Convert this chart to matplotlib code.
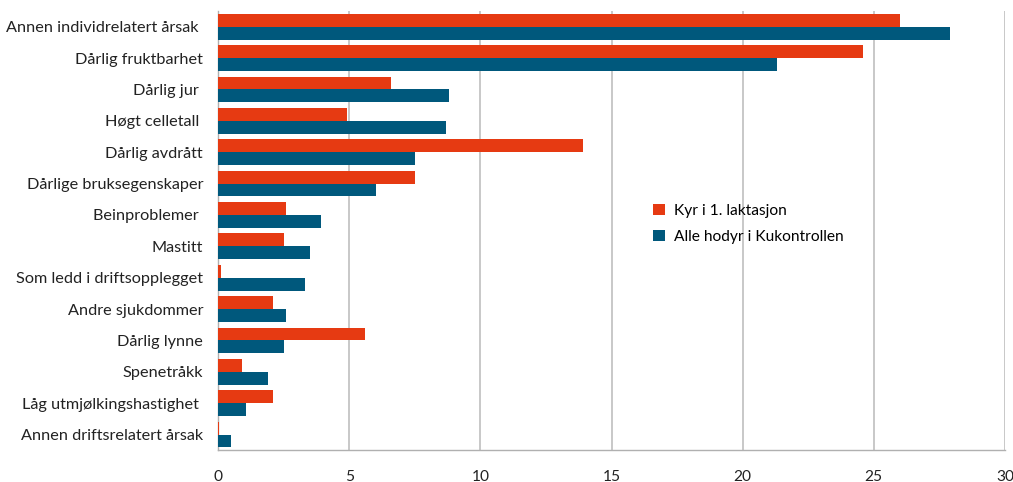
import numpy as np
import matplotlib.pyplot as plt

plt.rcParams['font.family'] = ['Lato', 'DejaVu Sans']

# categories, top to bottom
categories = ['Annen individrelatert årsak ', 'Dårlig fruktbarhet', 'Dårlig jur ',
              'Høgt celletall ', 'Dårlig avdrått', 'Dårlige bruksegenskaper',
              'Beinproblemer ', 'Mastitt', 'Som ledd i driftsopplegget',
              'Andre sjukdommer', 'Dårlig lynne', 'Spenetråkk',
              'Låg utmjølkingshastighet ', 'Annen driftsrelatert årsak']
first_lact = [26.0, 24.6, 6.6, 4.9, 13.9, 7.5, 2.6, 2.5, 0.1, 2.1, 5.6, 0.9, 2.1, 0.03]
all_cows = [27.9, 21.3, 8.8, 8.7, 7.5, 6.0, 3.9, 3.5, 3.3, 2.6, 2.5, 1.9, 1.05, 0.5]
xticks = [0, 5, 10, 15, 20, 25, 30]

orange = '#E63A12'
blue = '#00587C'
h = 0.41

fig, ax = plt.subplots(figsize=(10.13, 4.82), dpi=100)
fig.subplots_adjust(left=0.2155, right=0.992, top=0.977, bottom=0.066)

y = np.arange(len(categories))
ax.barh(y - h / 2, first_lact, height=h, color=orange, label='Kyr i 1. laktasjon', zorder=3)
ax.barh(y + h / 2, all_cows, height=h, color=blue, label='Alle hodyr i Kukontrollen', zorder=3)

ax.set_ylim(len(categories) - 0.5, -0.5)
ax.set_yticks(y)
ax.set_yticklabels(categories, fontsize=11.7, color='#222222')
ax.set_xlim(0, 30)
ax.set_xticks(xticks)
ax.set_xticklabels([str(t) for t in xticks], fontsize=11.2, color='#222222')
ax.tick_params(axis='both', length=0)
ax.tick_params(axis='y', pad=11)
ax.tick_params(axis='x', pad=14)

ax.grid(axis='x', color='#c4c4c4', linewidth=1.3, zorder=0)
for s in ['top', 'right']:
    ax.spines[s].set_visible(False)
for s in ['left', 'bottom']:
    ax.spines[s].set_color('#b0b0b0')
    ax.spines[s].set_linewidth(1.0)

ax.legend(loc='center left', bbox_to_anchor=(0.535, 0.515), frameon=False,
          fontsize=11.2, handlelength=0.75, handleheight=0.75, handletextpad=0.6,
          labelspacing=0.75)

plt.savefig('out.png', dpi=100)
